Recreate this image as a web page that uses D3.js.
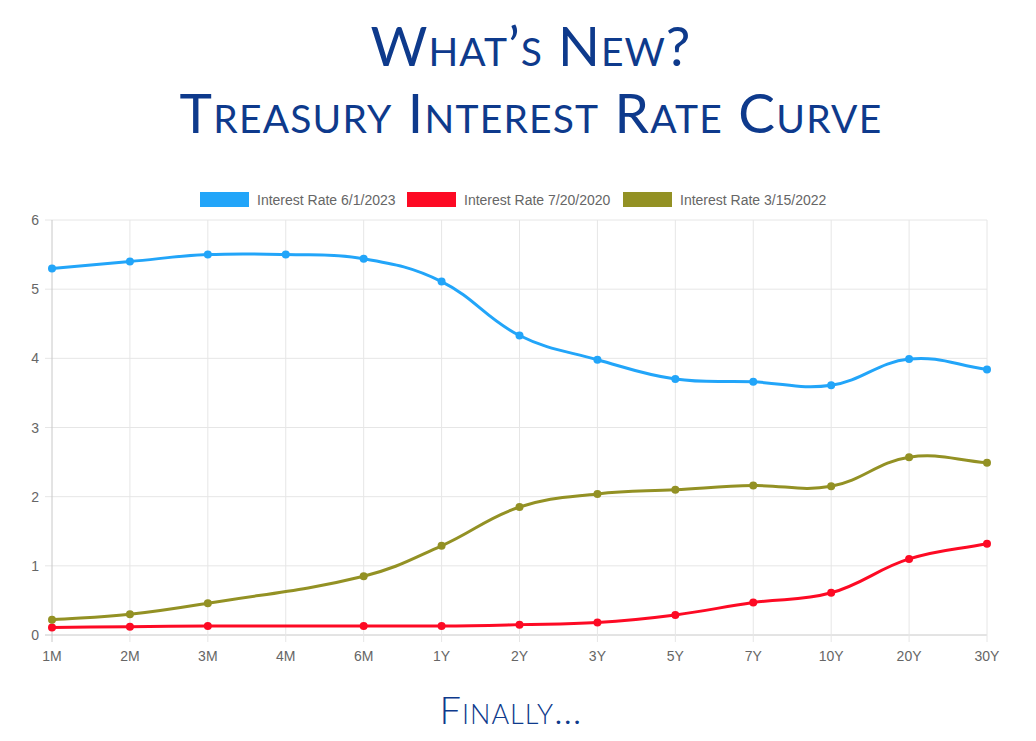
<!DOCTYPE html>
<html>
<head>
<meta charset="utf-8">
<script src="https://cdn.jsdelivr.net/npm/d3@7"></script>
<style>
  body { margin: 0; background: #fff; }
  svg { display: block; }
</style>
</head>
<body>
<div id="chart"></div>
<script>
const maturities = ["1M", "2M", "3M", "4M", "6M", "1Y", "2Y", "3Y", "5Y", "7Y", "10Y", "20Y", "30Y"];
const rate2023 = [5.30, 5.40, 5.50, 5.50, 5.44, 5.11, 4.33, 3.98, 3.70, 3.66, 3.61, 3.99, 3.84];
const rate2020 = [0.11, 0.12, 0.13, null, 0.13, 0.13, 0.15, 0.18, 0.29, 0.47, 0.61, 1.10, 1.32];
const rate2022 = [0.22, 0.30, 0.46, null, 0.85, 1.29, 1.85, 2.04, 2.10, 2.16, 2.15, 2.57, 2.49];
const seriesNames = ["Interest Rate 6/1/2023", "Interest Rate 7/20/2020", "Interest Rate 3/15/2022"];
const yTicks = [0, 1, 2, 3, 4, 5, 6];

const W = 1036, H = 741;
const margin = { left: 52, right: 49, top: 220, bottom: 106 };
const colors = ["#22a5f9", "#fd0a24", "#939124"];
const series = [rate2023, rate2020, rate2022];

const svg = d3.select("#chart").append("svg")
    .attr("width", W)
    .attr("height", H);

// title
const titleColor = "#0e3a8c";
const titleFont = "Lato, 'Open Sans', sans-serif";
svg.append("text")
    .attr("x", 531).attr("y", 66)
    .attr("text-anchor", "middle")
    .style("font-family", titleFont)
    .style("font-variant", "small-caps")
    .style("font-size", "55px")
    .style("letter-spacing", "1px")
    .style("fill", titleColor)
    .text("What’s New?");
svg.append("text")
    .attr("x", 531).attr("y", 133)
    .attr("text-anchor", "middle")
    .style("font-family", titleFont)
    .style("font-variant", "small-caps")
    .style("font-size", "55px")
    .style("letter-spacing", "1.2px")
    .style("fill", titleColor)
    .text("Treasury Interest Rate Curve");

// footer
svg.append("text")
    .attr("x", 511).attr("y", 724)
    .attr("text-anchor", "middle")
    .style("font-family", titleFont)
    .style("font-weight", 300)
    .style("font-variant", "small-caps")
    .style("font-size", "38px")
    .style("letter-spacing", "1px")
    .style("fill", titleColor)
    .text("Finally…");

const x = d3.scalePoint()
    .domain(maturities)
    .range([margin.left, W - margin.right]);

const y = d3.scaleLinear()
    .domain([0, 6])
    .range([H - margin.bottom, margin.top]);

const tickFont = "'Liberation Sans', Arial, sans-serif";

// grid
const grid = svg.append("g");
grid.selectAll("line.h")
    .data(yTicks)
    .join("line")
    .attr("x1", margin.left - 7).attr("x2", W - margin.right)
    .attr("y1", d => y(d)).attr("y2", d => y(d))
    .attr("stroke", d => d === 0 ? "#c8c8c8" : "#e6e6e6")
    .attr("stroke-width", 1);
grid.selectAll("line.v")
    .data(maturities)
    .join("line")
    .attr("x1", d => x(d)).attr("x2", d => x(d))
    .attr("y1", margin.top).attr("y2", H - margin.bottom + 7)
    .attr("stroke", (d, i) => i === 0 ? "#c8c8c8" : "#e6e6e6")
    .attr("stroke-width", 1);

// axis labels
svg.append("g")
    .selectAll("text")
    .data(yTicks)
    .join("text")
    .attr("x", margin.left - 13)
    .attr("y", d => y(d) + 5)
    .attr("text-anchor", "end")
    .style("font-family", tickFont)
    .style("font-size", "14px")
    .style("fill", "#666")
    .text(d => d);

svg.append("g")
    .selectAll("text")
    .data(maturities)
    .join("text")
    .attr("x", d => x(d))
    .attr("y", H - margin.bottom + 26)
    .attr("text-anchor", "middle")
    .style("font-family", tickFont)
    .style("font-size", "14px")
    .style("fill", "#666")
    .text(d => d);

// smooth line like chart.js (tension 0.4, distance weighted control points)
function splinePath(pts, t) {
    let p = `M${pts[0][0]},${pts[0][1]}`;
    const ctrl = pts.map((cur, i) => {
        const prev = pts[i - 1] || cur, next = pts[i + 1] || cur;
        const d01 = Math.hypot(cur[0] - prev[0], cur[1] - prev[1]);
        const d12 = Math.hypot(next[0] - cur[0], next[1] - cur[1]);
        let s01 = d01 / (d01 + d12) || 0, s12 = d12 / (d01 + d12) || 0;
        const fa = t * s01, fb = t * s12;
        return {
            before: [cur[0] - fa * (next[0] - prev[0]), cur[1] - fa * (next[1] - prev[1])],
            after: [cur[0] + fb * (next[0] - prev[0]), cur[1] + fb * (next[1] - prev[1])]
        };
    });
    for (let i = 1; i < pts.length; i++) {
        const a = ctrl[i - 1].after, b = ctrl[i].before;
        p += `C${a[0]},${a[1]},${b[0]},${b[1]},${pts[i][0]},${pts[i][1]}`;
    }
    return p;
}

series.forEach((vals, i) => {
    const pts = maturities.map((k, j) => ({ k, v: vals[j] })).filter(d => d.v !== null);
    const g = svg.append("g");
    g.append("path")
        .attr("d", splinePath(pts.map(d => [x(d.k), y(d.v)]), 0.4))
        .attr("fill", "none")
        .attr("stroke", colors[i])
        .attr("stroke-width", 3);
    g.selectAll("circle")
        .data(pts)
        .join("circle")
        .attr("cx", d => x(d.k))
        .attr("cy", d => y(d.v))
        .attr("r", 4)
        .attr("fill", colors[i]);
});

// legend
const legendX = [200, 407, 623];
const legend = svg.append("g");
seriesNames.forEach((name, i) => {
    legend.append("rect")
        .attr("x", legendX[i]).attr("y", 192)
        .attr("width", 49).attr("height", 15)
        .attr("fill", colors[i]);
    legend.append("text")
        .attr("x", legendX[i] + 57).attr("y", 205)
        .style("font-family", tickFont)
        .style("font-size", "14px")
        .style("fill", "#666")
        .text(name);
});
</script>
</body>
</html>
